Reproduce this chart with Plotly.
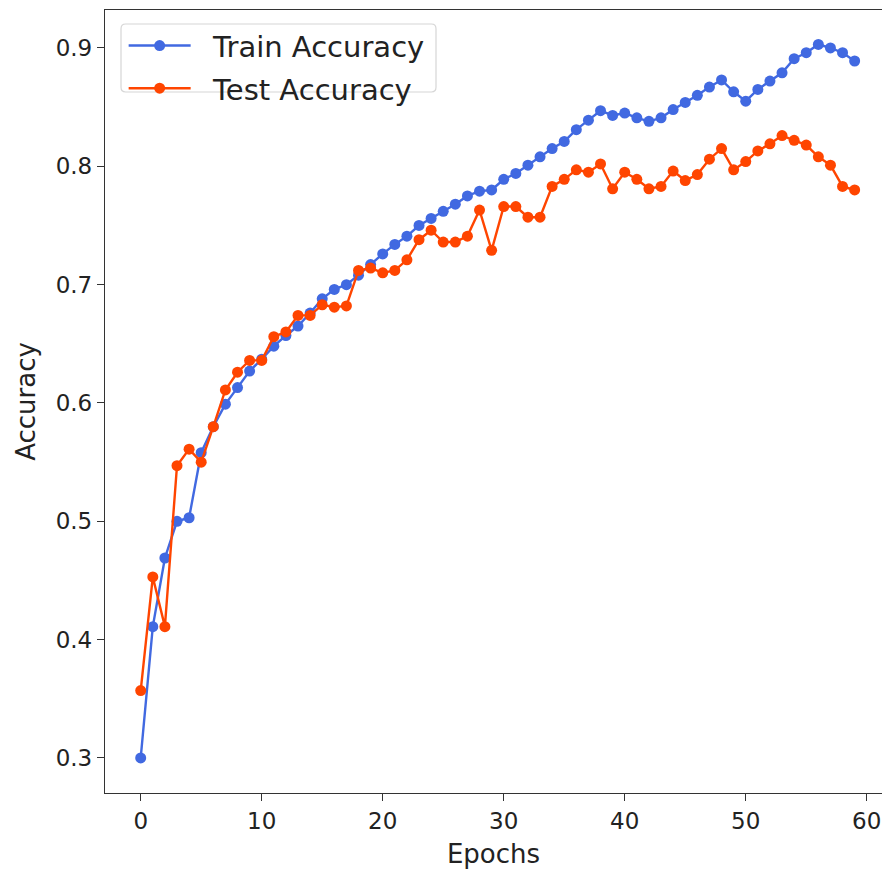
import plotly.graph_objects as go

# Per-epoch accuracy recorded during training
epochs = list(range(60))

train_acc = [
    0.300, 0.411, 0.469, 0.500, 0.503, 0.558, 0.580, 0.599, 0.613, 0.627,
    0.637, 0.648, 0.657, 0.665, 0.676, 0.688, 0.696, 0.700, 0.708, 0.717,
    0.726, 0.734, 0.741, 0.750, 0.756, 0.762, 0.768, 0.775, 0.779, 0.780,
    0.789, 0.794, 0.801, 0.808, 0.815, 0.821, 0.831, 0.839, 0.847, 0.843,
    0.845, 0.841, 0.838, 0.841, 0.848, 0.854, 0.860, 0.867, 0.873, 0.863,
    0.855, 0.865, 0.872, 0.879, 0.891, 0.896, 0.903, 0.900, 0.896, 0.889,
]

test_acc = [
    0.357, 0.453, 0.411, 0.547, 0.561, 0.550, 0.580, 0.611, 0.626, 0.636,
    0.636, 0.656, 0.660, 0.674, 0.674, 0.683, 0.681, 0.682, 0.712, 0.714,
    0.710, 0.712, 0.721, 0.738, 0.746, 0.736, 0.736, 0.741, 0.763, 0.729,
    0.766, 0.766, 0.757, 0.757, 0.783, 0.789, 0.797, 0.795, 0.802, 0.781,
    0.795, 0.789, 0.781, 0.783, 0.796, 0.788, 0.793, 0.806, 0.815, 0.797,
    0.804, 0.813, 0.819, 0.826, 0.822, 0.818, 0.808, 0.801, 0.783, 0.780,
]

x_ticks = [0, 10, 20, 30, 40, 50, 60]
y_ticks = [0.3, 0.4, 0.5, 0.6, 0.7, 0.8, 0.9]

TRAIN_COLOR = "#4169E1"
TEST_COLOR = "#FF4500"
FONT = "DejaVu Sans"
AXIS_COLOR = "#333333"
TEXT_COLOR = "#222222"
GAP = "\u2002\u200a"  # space between legend sample and label

fig = go.Figure()
fig.add_trace(go.Scatter(
    x=epochs, y=train_acc, mode="lines+markers", name=GAP + "Train Accuracy",
    legendgroup="train",
    line=dict(color=TRAIN_COLOR, width=2.4),
    marker=dict(color=TRAIN_COLOR, size=11),
))
fig.add_trace(go.Scatter(
    x=epochs, y=test_acc, mode="lines+markers", name=GAP + "Test Accuracy",
    legendgroup="test",
    line=dict(color=TEST_COLOR, width=2.4),
    marker=dict(color=TEST_COLOR, size=11),
))

# Rounded legend frame (paper coordinates)
x0, x1, y0, y1 = 0.0206, 0.4260, 0.8953, 0.9821
rx, ry = 0.006, 0.006
frame = (
    f"M {x0+rx},{y0} L {x1-rx},{y0} Q {x1},{y0} {x1},{y0+ry} "
    f"L {x1},{y1-ry} Q {x1},{y1} {x1-rx},{y1} "
    f"L {x0+rx},{y1} Q {x0},{y1} {x0},{y1-ry} "
    f"L {x0},{y0+ry} Q {x0},{y0} {x0+rx},{y0} Z"
)
fig.add_shape(type="path", path=frame, xref="paper", yref="paper",
              line=dict(color="#d6d6d6", width=1.2),
              fillcolor="rgba(255,255,255,0.85)", layer="above")

fig.update_layout(
    width=882, height=872,
    margin=dict(l=105, r=0, t=10, b=79),
    paper_bgcolor="white", plot_bgcolor="white",
    font=dict(family=FONT, color=TEXT_COLOR, size=22),
    showlegend=True,
    legend=dict(
        x=0.024, y=0.987, xanchor="left", yanchor="top",
        bgcolor="rgba(0,0,0,0)", borderwidth=0,
        font=dict(family=FONT, size=29, color=TEXT_COLOR),
        itemwidth=62, tracegroupgap=2,
    ),
    xaxis=dict(
        range=[-2.95, 61.26], tickmode="array", tickvals=x_ticks,
        ticktext=[str(v) for v in x_ticks],
        showgrid=False, zeroline=False,
        showline=True, linecolor=AXIS_COLOR, linewidth=1.3, mirror=True,
        ticks="outside", ticklen=7, tickwidth=1.3, tickcolor=AXIS_COLOR,
        tickfont=dict(family=FONT, size=23, color=TEXT_COLOR),
        title=dict(text="Epochs", font=dict(family=FONT, size=26, color=TEXT_COLOR),
                   standoff=12),
    ),
    yaxis=dict(
        range=[0.2704, 0.9321], tickmode="array", tickvals=y_ticks,
        ticktext=[f"{v:.1f}" for v in y_ticks],
        showgrid=False, zeroline=False,
        showline=True, linecolor=AXIS_COLOR, linewidth=1.3,
        ticks="outside", ticklen=7, tickwidth=1.3, tickcolor=AXIS_COLOR,
        tickfont=dict(family=FONT, size=23, color=TEXT_COLOR),
        title=dict(text="Accuracy", font=dict(family=FONT, size=26, color=TEXT_COLOR),
                   standoff=12),
    ),
)

fig.write_html("out.html")
